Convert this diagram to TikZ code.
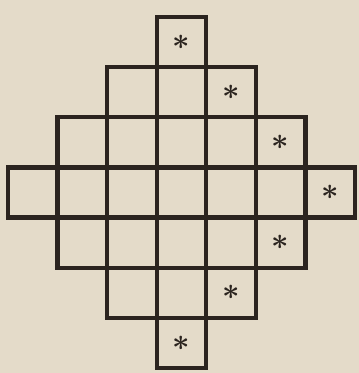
\documentclass[tikz,border=0pt]{standalone}
\definecolor{paper}{HTML}{E4DBC9}
\definecolor{ink}{HTML}{2B241F}
\begin{document}
\begin{tikzpicture}[x=0.02cm,y=-0.02cm,
  cell/.style={draw=ink,line width=2.5pt,line join=miter},
  starmark/.style={inner sep=0pt,text=ink,font=\fontsize{17}{17}\selectfont\boldmath}]
\useasboundingbox (0,0) rectangle (359,373);
\fill[paper] (0,0) rectangle (359,373);
\foreach \r/\a/\b in {0/3/3,1/2/4,2/1/5,3/0/6,4/1/5,5/2/4,6/3/3}
  \foreach \c in {\a,...,\b}
    \draw[cell] ({8+49.57*\c},{17+50.14*\r}) rectangle ++(49.57,50.14);
\foreach \r/\c in {0/3,1/4,2/5,3/6,4/5,5/4,6/3}
  \node[starmark] (s\r) at ({8+49.57*(\c+0.5)},{17+50.14*(\r+0.5)}) {$\ast$};
\end{tikzpicture}
\end{document}
